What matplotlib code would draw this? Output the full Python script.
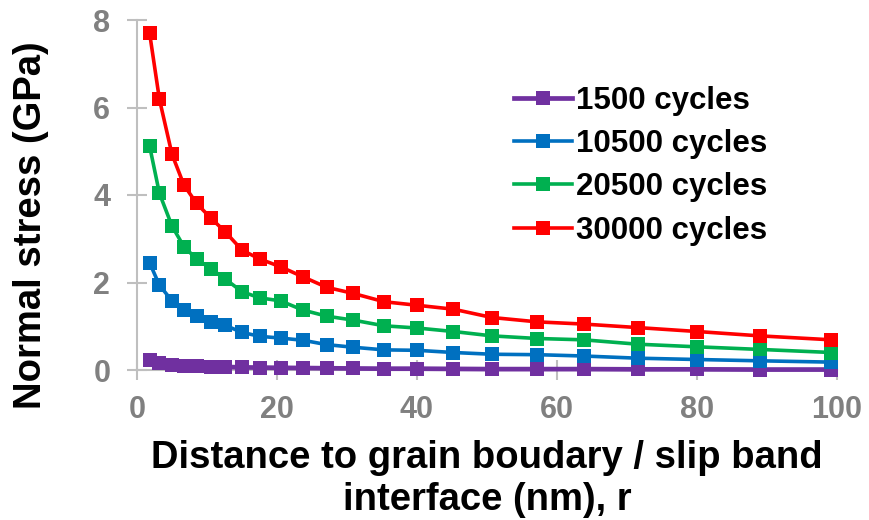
import matplotlib
matplotlib.use("Agg")
import matplotlib.pyplot as plt

plt.rcParams['font.family'] = ['Liberation Sans', 'DejaVu Sans']

r_nm = [1.8, 3.2, 5.0, 6.7, 8.5, 10.5, 12.6, 15.0, 17.5, 20.5, 23.7, 27.1,
        30.9, 35.3, 40.0, 45.2, 50.7, 57.2, 63.8, 71.5, 80.0, 89.0, 99.2]

s_1500 = [0.23, 0.15, 0.12, 0.10, 0.09, 0.08, 0.07, 0.06, 0.055, 0.05, 0.045, 0.04,
          0.035, 0.03, 0.03, 0.025, 0.02, 0.02, 0.02, 0.015, 0.015, 0.01, 0.01]
s_10500 = [2.45, 1.94, 1.58, 1.38, 1.23, 1.10, 1.02, 0.86, 0.77, 0.73, 0.68, 0.58,
           0.52, 0.46, 0.45, 0.40, 0.36, 0.35, 0.32, 0.27, 0.24, 0.21, 0.18]
s_20500 = [5.12, 4.04, 3.29, 2.82, 2.54, 2.32, 2.08, 1.79, 1.65, 1.58, 1.37, 1.23,
           1.14, 1.01, 0.96, 0.88, 0.78, 0.72, 0.69, 0.59, 0.53, 0.47, 0.40]
s_30000 = [7.70, 6.19, 4.93, 4.23, 3.81, 3.48, 3.16, 2.74, 2.54, 2.36, 2.13, 1.89,
           1.75, 1.56, 1.48, 1.39, 1.20, 1.10, 1.05, 0.97, 0.88, 0.78, 0.69]

labels = ["1500 cycles", "10500 cycles", "20500 cycles", "30000 cycles"]
colors = ["#7030A0", "#0070C0", "#00B050", "#FF0000"]
series = [s_1500, s_10500, s_20500, s_30000]
widths = [3.4, 2.6, 2.6, 2.6]

xticks = [0, 20, 40, 60, 80, 100]
yticks = [0, 2, 4, 6, 8]

fig = plt.figure(figsize=(8.69, 5.2), dpi=100)
ax = fig.add_axes([137/869, 150/520, 700/869, 350/520])

for ys, lab, c, lw in zip(series, labels, colors, widths):
    ax.plot(r_nm, ys, color=c, lw=lw, marker='s', markersize=9.4,
            markeredgewidth=0, label=lab, zorder=3, clip_on=False)

ax.set_xlim(0, 100)
ax.set_ylim(0, 8)
ax.set_xticks(xticks)
ax.set_yticks(yticks)
ax.set_xticklabels([str(v) for v in xticks])
ax.set_yticklabels([str(v) for v in yticks])

for s in ['top', 'right']:
    ax.spines[s].set_visible(False)
for s in ['left', 'bottom']:
    ax.spines[s].set_color('#BFBFBF')
    ax.spines[s].set_linewidth(1.5)

ax.tick_params(axis='both', direction='inout', length=14.4, width=1.5,
               color='#BFBFBF', labelcolor='#808080', labelsize=22)
ax.tick_params(axis='y', pad=12)
ax.tick_params(axis='x', pad=11)
for t in ax.get_xticklabels() + ax.get_yticklabels():
    t.set_fontweight('bold')

ax.set_ylabel("Normal stress (GPa)", fontsize=27.5, fontweight='bold', va='center')
ax.yaxis.set_label_coords(-0.151, 0.414)
ax.set_xlabel("Distance to grain boudary / slip band\ninterface (nm), r",
              fontsize=27.5, fontweight='bold', linespacing=1.22, va='top')
ax.xaxis.set_label_coords(0.5, -0.2)

leg = ax.legend(loc='upper left', bbox_to_anchor=(0.538, 0.811), frameon=False,
                prop={'weight': 'bold', 'size': 22.5},
                handlelength=1.86, handletextpad=0.15, labelspacing=0.42,
                borderaxespad=0, borderpad=0)

fig.savefig("out.png", dpi=100)
